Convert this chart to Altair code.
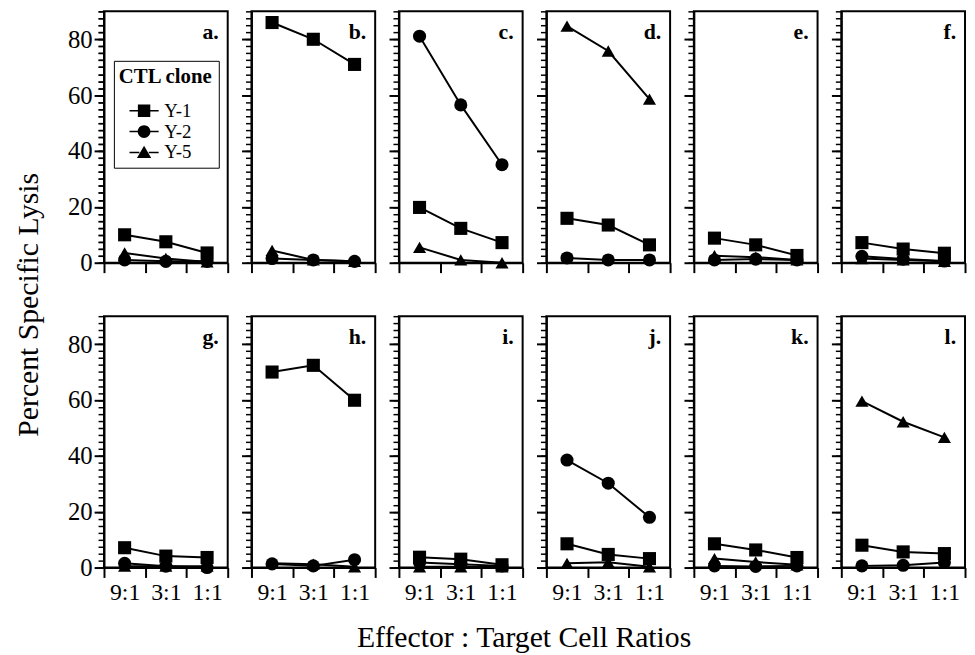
import altair as alt
import pandas as pd

# ---------------- data ----------------
panels = ["a", "b", "c", "d", "e", "f", "g", "h", "i", "j", "k", "l"]
ratios = ["9:1", "3:1", "1:1"]
clones = ["Y-1", "Y-2", "Y-5"]

y1_vals = [[10, 7.5, 3.5], [86, 80, 71], [19.8, 12.3, 7.2], [15.9, 13.5, 6.4],
           [8.8, 6.4, 2.6], [7.2, 4.9, 3.4], [7.1, 4.1, 3.6], [70, 72.4, 59.9],
           [3.7, 3, 1], [8.5, 4.7, 3.2], [8.5, 6.3, 3.6], [8, 5.6, 5]]
y2_vals = [[1, 0.5, 0.5], [1.5, 1, 0.5], [81.1, 56.5, 35.1], [1.7, 1, 1],
           [1, 1.3, 1], [2.3, 1.3, 0.6], [1.5, 0.5, 0], [1.3, 0.6, 2.8],
           [1.8, 1.2, 0.6], [38.5, 30.2, 18], [0.6, 0.4, 0.6], [0.6, 0.8, 1.8]]
y5_vals = [[3.5, 1.5, 0.3], [4.4, 1, 0.5], [5.5, 1, 0], [84.7, 75.8, 58.6],
           [2.5, 2, 1], [1.5, 1, 0.5], [0.5, 0.5, 0.5], [1.5, 1.2, 0.3],
           [0.3, 0.3, 0.3], [1.5, 1.9, 0.3], [3.2, 2, 1], [59.6, 52.2, 46.6]]

major_ticks = [0, 20, 40, 60, 80]
minor_ticks = [i * 2.5 for i in range(37)]

rows = []
for i, p in enumerate(panels):
    for clone, vals in zip(clones, [y1_vals, y2_vals, y5_vals]):
        for r, v in zip(ratios, vals[i]):
            rows.append({"panel": p, "clone": clone, "ratio": r, "value": v})
df = pd.DataFrame(rows)

# ---------------- style ----------------
FONT = "Liberation Serif"
W, H = 125, 254

# legend glyphs: marker with a short line stub on each side (all filled)
stub = "M-1.55,-0.08H-0.5V0.08H-1.55ZM0.5,-0.08H1.55V0.08H0.5Z"
sq = stub + "M-0.66,-0.66H0.66V0.66H-0.66Z"
ci = stub + "M-0.68,0A0.68,0.68,0,1,1,0.68,0A0.68,0.68,0,1,1,-0.68,0Z"
tr = stub + "M0,-0.7L0.76,0.6L-0.76,0.6Z"


def make_panel(idx, p):
    row, col = divmod(idx, 6)
    d = df[df["panel"] == p]
    base = alt.Chart(d)

    x_axis_kw = dict(
        title=None, tickBand="extent", ticks=True, tickSize=10, tickWidth=2,
        tickColor="black", domain=True, domainColor="black", domainWidth=2,
        labels=(row == 1), labelFont=FONT,
        labelFontSize=24, labelColor="black", labelPadding=3, labelAngle=0, grid=False,
    )
    if p == "g":
        x_axis_kw.update(title="Effector : Target Cell Ratios", titleX=424, titleY=80,
                         titleAlign="center", titleBaseline="alphabetic", titleAngle=0,
                         titleFont=FONT, titleFontSize=30, titleFontWeight="normal",
                         titleColor="black")
    x = alt.X("ratio:O", sort=ratios,
              scale=alt.Scale(type="band", paddingInner=0, paddingOuter=0),
              axis=alt.Axis(**x_axis_kw))

    yscale = alt.Scale(domain=[0, 90], nice=False, zero=True)
    y_axis_kw = dict(
        values=major_ticks, ticks=True, tickSize=10, tickWidth=2, tickColor="black",
        domain=True, domainColor="black", domainWidth=2, labels=(col == 0),
        labelFont=FONT, labelFontSize=25, labelColor="black", labelPadding=2,
        grid=False, orient="left", title=None,
    )
    if p == "a":
        y_axis_kw.update(title="Percent Specific Lysis", titleX=-67, titleY=296,
                         titleAngle=270, titleAlign="center", titleBaseline="alphabetic",
                         titleFont=FONT, titleFontSize=30, titleFontWeight="normal",
                         titleColor="black")
    y_major = alt.Y("value:Q", scale=yscale, axis=alt.Axis(**y_axis_kw))
    y_minor = alt.Y("value:Q", scale=yscale,
                    axis=alt.Axis(values=minor_ticks, ticks=True, tickSize=6,
                                  tickWidth=1.5, tickColor="black", domain=False,
                                  labels=False, title=None, orient="left", grid=False))

    lines = base.mark_line(color="black", strokeWidth=2).encode(
        x=x, y=y_major, detail="clone:N")
    pts = base.mark_point(filled=True, color="black", opacity=1, size=175).encode(
        x=x, y=y_minor,
        shape=alt.Shape("clone:N", sort=clones,
                        scale=alt.Scale(domain=clones,
                                        range=["square", "circle", "triangle-up"]),
                        legend=None))
    label = alt.Chart(pd.DataFrame({"label": [p + "."]})).mark_text(
        font=FONT, fontSize=22, fontWeight="bold", align="right",
        baseline="alphabetic", color="black").encode(
        x=alt.value(W - 9), y=alt.value(28), text="label:N")

    layers = [lines, pts, label]
    if p == "a":
        legend = alt.Legend(
            title="CTL clone", orient="none", legendX=10, legendY=50, padding=5,
            strokeColor="black", titleFont=FONT, titleFontSize=21,
            titleFontWeight="bold", titleColor="black", titlePadding=15,
            labelFont=FONT, labelFontSize=19, labelColor="black", labelOffset=11,
            symbolSize=361, symbolOffset=16, rowPadding=1, symbolOpacity=1,
            symbolStrokeWidth=0, symbolFillColor="black", symbolStrokeColor="black",
        )
        leg_layer = base.mark_point(filled=True, color="black", opacity=0).encode(
            x=x, y=y_minor,
            shape=alt.Shape("clone:N", sort=clones,
                            scale=alt.Scale(domain=clones, range=[sq, ci, tr]),
                            legend=legend))
        layers.append(leg_layer)

    return alt.layer(*layers).resolve_axis(y="independent").resolve_scale(
        shape="independent").properties(width=W, height=H)


charts = [make_panel(i, p) for i, p in enumerate(panels)]

chart = alt.concat(*charts, columns=6, spacing={"row": 54, "column": 24},
                   bounds="flush").resolve_scale(shape="independent").properties(
    padding={"left": 5, "top": -2, "right": 0, "bottom": 0}
).configure(font=FONT).configure_view(stroke="black", strokeWidth=2)

chart.save("out.html", embed_options={"renderer": "svg", "actions": False})
